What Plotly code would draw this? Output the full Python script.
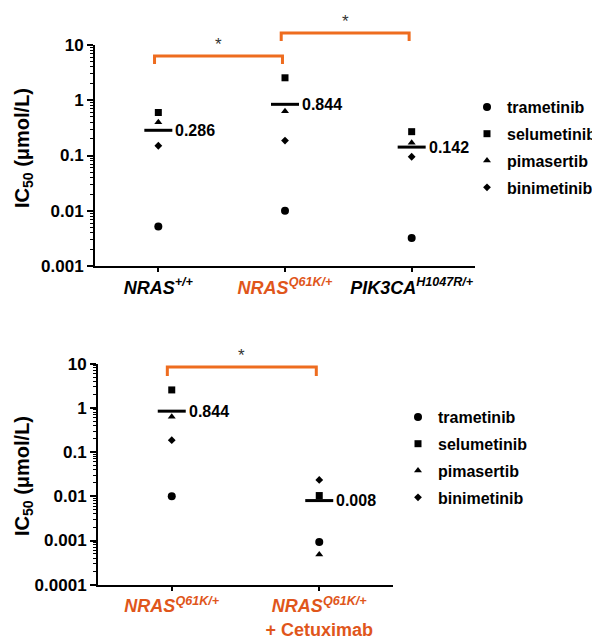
import math
import plotly.graph_objects as go

W, H = 600, 642
FONT = "Liberation Sans"
ORANGE_TXT = "#E0561B"
ORANGE_LINE = "#EE6C1F"

# ---------------- data ----------------
drugs = ["trametinib", "selumetinib", "pimasertib", "binimetinib"]
symbols = ["circle", "square", "triangle-up", "diamond"]
sizes = [8, 7, 7, 6]

top_categories = ["NRAS+/+", "NRAS Q61K/+", "PIK3CA H1047R/+"]
top_ticktext = [
    "<i>NRAS<sup>+/+</sup></i>",
    f"<span style='color:{ORANGE_TXT}'><i>NRAS<sup>Q61K/+</sup></i></span>",
    "<i>PIK3CA<sup>H1047R/+</sup></i>",
]
trametinib_top = [0.0052, 0.0100, 0.0032]
selumetinib_top = [0.60, 2.55, 0.27]
pimasertib_top = [0.40, 0.63, 0.17]
binimetinib_top = [0.15, 0.186, 0.095]
means_top = [0.286, 0.844, 0.142]

bot_categories = ["NRAS Q61K/+", "NRAS Q61K/+ + Cetuximab"]
bot_ticktext = [
    f"<span style='color:{ORANGE_TXT}'><i>NRAS<sup>Q61K/+</sup></i></span>",
    f"<span style='color:{ORANGE_TXT}'><i>NRAS<sup>Q61K/+</sup></i><br>+ Cetuximab</span>",
]
trametinib_bot = [0.0100, 0.00093]
selumetinib_bot = [2.55, 0.0104]
pimasertib_bot = [0.63, 0.00048]
binimetinib_bot = [0.186, 0.0235]
means_bot = [0.844, 0.008]

top_yticks = [10, 1, 0.1, 0.01, 0.001]
top_yticktext = ["10", "1", "0.1", "0.01", "0.001"]
bot_yticks = [10, 1, 0.1, 0.01, 0.001, 0.0001]
bot_yticktext = ["10", "1", "0.1", "0.01", "0.001", "0.0001"]

top_pairs = [(0, 1), (1, 2)]
bot_pairs = [(0, 1)]

top_series = [trametinib_top, selumetinib_top, pimasertib_top, binimetinib_top]
bot_series = [trametinib_bot, selumetinib_bot, pimasertib_bot, binimetinib_bot]

# ---------------- figure ----------------
fig = go.Figure()

def add_panel(cats, series, means, xa, ya, legend):
    for d, sym, sz, vals in zip(drugs, symbols, sizes, series):
        fig.add_trace(go.Scatter(
            x=cats, y=vals, mode="markers", name=d,
            marker=dict(symbol=sym, size=sz, color="black", line=dict(width=0)),
            xaxis=xa, yaxis=ya, legend=legend, legendgroup=legend + d,
            cliponaxis=False,
        ))
    fig.add_trace(go.Scatter(
        x=cats, y=means, mode="markers",
        marker=dict(symbol="line-ew-open", size=20, color="black",
                    line=dict(width=3, color="black")),
        xaxis=xa, yaxis=ya, showlegend=False, cliponaxis=False,
    ))
    for c, m in zip(cats, means):
        # annotations on log axes take log10 positions
        fig.add_annotation(text=str(m), x=c, y=math.log10(m), xref=xa, yref=ya,
                           xanchor="left", yanchor="middle", xshift=15,
                           showarrow=False,
                           font=dict(family=FONT, size=16, color="black", weight="bold"))

add_panel(top_categories, top_series, means_top, "x", "y", "legend")
add_panel(bot_categories, bot_series, means_bot, "x2", "y2", "legend2")

def py(px):
    return 1 - px / H

axis_common = dict(showline=True, linewidth=2, linecolor="black", showgrid=False,
                   zeroline=False, ticks="outside", tickcolor="black", tickwidth=2,
                   automargin=False)

minor_top = [m * 10 ** e for e in range(-3, 1) for m in range(2, 10)]
minor_bot = [m * 10 ** e for e in range(-4, 1) for m in range(2, 10)]

legend_common = dict(xanchor="left", yanchor="top",
                     font=dict(family=FONT, size=16, weight="bold", color="black"),
                     traceorder="grouped", tracegroupgap=3, itemwidth=30,
                     bgcolor="rgba(0,0,0,0)")

fig.update_layout(
    width=W, height=H,
    margin=dict(l=0, r=0, t=0, b=0, autoexpand=False),
    paper_bgcolor="white", plot_bgcolor="white",
    font=dict(family=FONT, color="black"),
    xaxis=dict(domain=[87 / W, 467 / W], anchor="y", type="category",
               range=[-0.5, 2.5], tickvals=top_categories, ticktext=top_ticktext,
               ticklen=4, tickfont=dict(family=FONT, size=18, weight="bold", color="black"),
               **axis_common),
    yaxis=dict(domain=[py(258), py(37)], anchor="x", type="log", range=[-3, 1],
               tickvals=top_yticks, ticktext=top_yticktext, ticklen=6,
               tickfont=dict(family=FONT, size=17, weight="bold", color="black"),
               minor=dict(tickvals=minor_top, ticks="outside", ticklen=3, tickwidth=1,
                          tickcolor="black", showgrid=False),
               **axis_common),
    xaxis2=dict(domain=[90 / W, 385 / W], anchor="y2", type="category",
                range=[-0.5, 1.5], tickvals=bot_categories, ticktext=bot_ticktext,
                ticklen=4, ticklabelstandoff=0,
                tickfont=dict(family=FONT, size=18, weight="bold", color="black"),
                **axis_common),
    yaxis2=dict(domain=[py(576.7), py(355.7)], anchor="x2", type="log", range=[-4, 1],
                tickvals=bot_yticks, ticktext=bot_yticktext, ticklen=6,
                tickfont=dict(family=FONT, size=17, weight="bold", color="black"),
                minor=dict(tickvals=minor_bot, ticks="outside", ticklen=3, tickwidth=1,
                           tickcolor="black", showgrid=False),
                **axis_common),
    legend=dict(x=459 / W, y=py(82), **legend_common),
    legend2=dict(x=390 / W, y=py(392), **legend_common),
    showlegend=True,
)

# y-axis titles
for yc in [140, 468]:
    fig.add_annotation(text="IC<sub>50</sub> (μmol/L)", textangle=-90,
                       xref="paper", yref="paper", x=15 / W, y=py(yc),
                       xanchor="center", yanchor="middle", showarrow=False,
                       font=dict(family=FONT, size=20, weight="bold", color="black"))

# significance brackets
def bracket(xref, i, j, top_px, drop_px):
    x0, x1 = i - 0.03, j - 0.02
    yt, yb = py(top_px), py(top_px + drop_px)
    fig.add_shape(type="path", xref=xref, yref="paper",
                  path=f"M {x0},{yb} L {x0},{yt} L {x1},{yt} L {x1},{yb}",
                  line=dict(color=ORANGE_LINE, width=3), layer="above")
    fig.add_annotation(text="*", xref=xref, yref="paper", x=(x0 + x1) / 2, y=yt,
                       yanchor="bottom", xanchor="center", showarrow=False,
                       font=dict(family=FONT, size=17, color="#333333"))

bracket("x", top_pairs[0][0], top_pairs[0][1], 48, 8)
bracket("x", top_pairs[1][0], top_pairs[1][1], 25, 8)
bracket("x2", bot_pairs[0][0], bot_pairs[0][1], 359, 9)

fig.write_html("out.html")
